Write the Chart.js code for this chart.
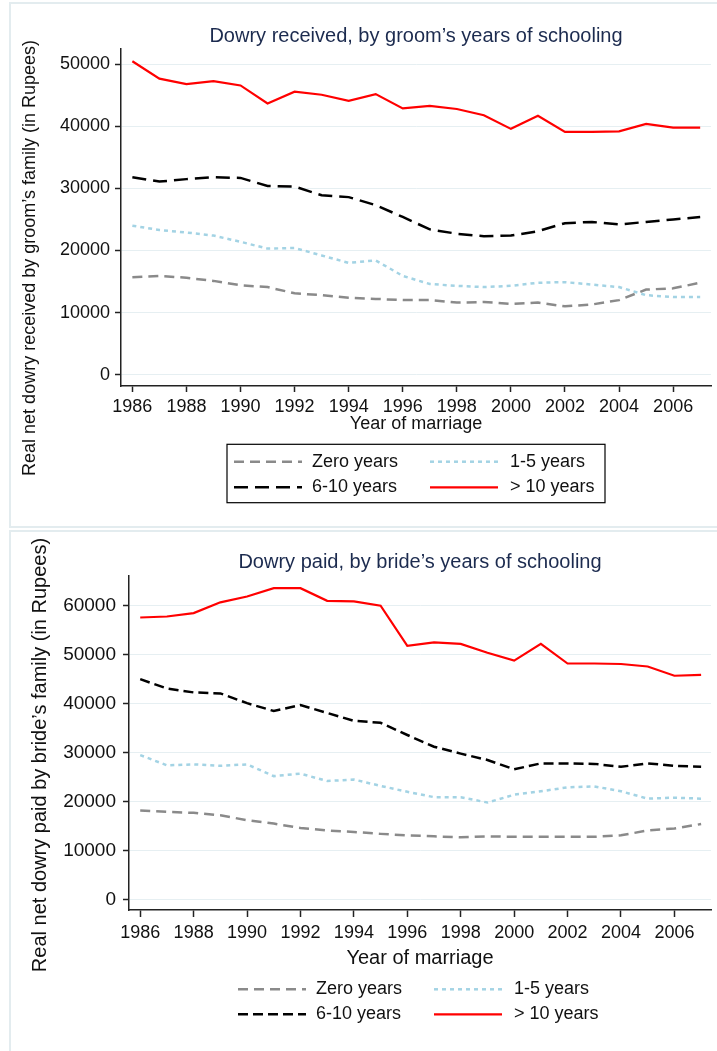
<!DOCTYPE html>
<html>
<head>
<meta charset="utf-8">
<script src="https://cdn.jsdelivr.net/npm/chart.js@4.4.1/dist/chart.umd.min.js"></script>
<style>
  body { margin: 0; background: #fff; width: 717px; height: 1051px; position: relative; overflow: hidden; }
  .panel { position: absolute; left: 9px; width: 720px; border: 2px solid #e3ecef; box-sizing: border-box; }
  #p1 { top: 2px; height: 526px; }
  #p2 { top: 530px; height: 530px; }
  canvas { position: absolute; left: 0; }
  #c1 { top: 0; }
  #c2 { top: 529px; }
</style>
</head>
<body>
<div class="panel" id="p1"></div>
<div class="panel" id="p2"></div>
<canvas id="c1" width="717" height="528"></canvas>
<canvas id="c2" width="717" height="522"></canvas>
<script>
// data
const years = [1986, 1987, 1988, 1989, 1990, 1991, 1992, 1993, 1994, 1995, 1996,
               1997, 1998, 1999, 2000, 2001, 2002, 2003, 2004, 2005, 2006, 2007];
const xTicks = [1986, 1988, 1990, 1992, 1994, 1996, 1998, 2000, 2002, 2004, 2006];
const seriesLabels = ['Zero years', '1-5 years', '6-10 years', '> 10 years'];

// Dowry received, by groom's schooling
const recvTicks = [0, 10000, 20000, 30000, 40000, 50000];
const recvZero   = [15700, 15900, 15600, 15100, 14400, 14100, 13100, 12800, 12400, 12200, 12000,
                    12000, 11600, 11700, 11400, 11600, 11000, 11300, 12000, 13700, 13900, 14800];
const recv1to5   = [24000, 23300, 22900, 22400, 21400, 20300, 20400, 19200, 18000, 18400, 15900,
                    14600, 14300, 14100, 14300, 14800, 14900, 14500, 14100, 12800, 12500, 12500];
const recv6to10  = [31800, 31100, 31500, 31800, 31700, 30400, 30300, 28900, 28600, 27300, 25400,
                    23400, 22700, 22300, 22400, 23100, 24400, 24600, 24200, 24600, 25000, 25400];
const recvOver10 = [50500, 47700, 46800, 47300, 46600, 43700, 45600, 45100, 44100, 45200, 42900,
                    43300, 42800, 41800, 39600, 41700, 39100, 39100, 39200, 40400, 39800, 39800];

// Dowry paid, by bride's schooling
const paidTicks = [0, 10000, 20000, 30000, 40000, 50000, 60000];
const paidZero   = [18200, 17900, 17700, 17200, 16200, 15500, 14600, 14100, 13800, 13400, 13100,
                    12900, 12700, 12900, 12800, 12800, 12800, 12800, 13100, 14100, 14500, 15400];
const paid1to5   = [29500, 27400, 27600, 27300, 27600, 25200, 25700, 24200, 24500, 23200, 22000,
                    20900, 20900, 19800, 21400, 22100, 22900, 23100, 22100, 20600, 20800, 20600];
const paid6to10  = [45000, 43100, 42300, 42100, 40100, 38500, 39700, 38100, 36500, 36100, 33600,
                    31200, 29800, 28500, 26600, 27800, 27800, 27700, 27100, 27800, 27300, 27100];
const paidOver10 = [57600, 57800, 58500, 60700, 61900, 63600, 63600, 61000, 60900, 60000, 51800,
                    52500, 52200, 50400, 48800, 52200, 48200, 48200, 48100, 47600, 45700, 45900];

Chart.defaults.font.family = '"Liberation Sans", Arial, sans-serif';
Chart.defaults.color = '#111';

// titles: main title over the plot region, y title centred on the panel (Stata style)
const plotTitle = {
  id: 'plotTitle',
  afterDraw(chart, args, opts) {
    const { ctx, chartArea } = chart;
    ctx.save();
    ctx.font = '20px "Liberation Sans", Arial, sans-serif';
    ctx.fillStyle = '#1c2b4f';
    ctx.textAlign = 'center';
    ctx.textBaseline = 'middle';
    ctx.fillText(opts.text, (chartArea.left + chartArea.right) / 2, opts.y);
    ctx.font = opts.ySize + 'px "Liberation Sans", Arial, sans-serif';
    ctx.fillStyle = '#111';
    ctx.translate(opts.yx, opts.yy);
    ctx.rotate(-Math.PI / 2);
    ctx.fillText(opts.yText, 0, 0);
    ctx.restore();
  }
};

// two-column legend under the x title
const plotLegend = {
  id: 'plotLegend',
  afterDraw(chart, args, opts) {
    const { ctx, chartArea } = chart;
    const cx = (chartArea.left + chartArea.right) / 2;
    ctx.save();
    ctx.font = '18px "Liberation Sans", Arial, sans-serif';
    ctx.textBaseline = 'middle';
    chart.data.datasets.forEach((ds, i) => {
      const col = i % 2;
      const y = opts.rows[Math.floor(i / 2)];
      const x0 = cx + (col ? 14 : -182);
      ctx.strokeStyle = ds.borderColor;
      ctx.lineWidth = ds.borderWidth;
      ctx.setLineDash(ds.borderDash);
      ctx.beginPath();
      ctx.moveTo(x0, y);
      ctx.lineTo(x0 + 68, y);
      ctx.stroke();
      ctx.setLineDash([]);
      ctx.fillStyle = '#111';
      ctx.fillText(ds.label, cx + (col ? 94 : -104), y);
    });
    if (opts.box) {
      ctx.strokeStyle = '#000';
      ctx.lineWidth = 1.2;
      ctx.strokeRect(cx - 189, opts.box[0], 378, opts.box[1] - opts.box[0]);
    }
    ctx.restore();
  }
};

function makeChart(id, series, styles, o) {
  new Chart(document.getElementById(id), {
    type: 'line',
    data: {
      datasets: series.map((vals, i) => ({
        label: seriesLabels[i],
        data: years.map((yr, j) => ({ x: yr, y: vals[j] })),
        borderColor: styles[i].color,
        borderWidth: styles[i].width,
        borderDash: styles[i].dash,
        pointRadius: 0,
        tension: 0,
        fill: false
      }))
    },
    options: {
      responsive: false,
      animation: false,
      layout: { padding: { top: o.top, right: 6, bottom: o.bottom, left: 0 } },
      plugins: {
        legend: { display: false },
        tooltip: { enabled: false },
        plotTitle: { text: o.title, y: o.titleY, yText: o.yTitle, yx: o.yTitleX, yy: o.yTitleY, ySize: o.yTitleSize },
        plotLegend: { rows: o.legendRows, box: o.legendBox }
      },
      scales: {
        x: {
          type: 'linear',
          min: 1985.58,
          max: o.xMax,
          afterBuildTicks: s => { s.ticks = xTicks.map(v => ({ value: v })); },
          afterFit: s => { s.height = o.xHeight; },
          ticks: { font: { size: 18 }, padding: o.xPad, maxRotation: 0, callback: v => String(v), color: '#111' },
          grid: { drawOnChartArea: false, tickLength: o.xTick, tickColor: '#222', tickWidth: 1.5 },
          border: { display: true, color: '#222', width: 1.5 },
          title: { display: true, text: 'Year of marriage', font: { size: o.xTitleSize }, padding: 0, color: '#111' }
        },
        y: {
          min: o.yMin,
          max: o.yMax,
          afterBuildTicks: s => { s.ticks = o.yTicks.map(v => ({ value: v })); },
          afterFit: s => { s.width = o.yWidth; },
          ticks: { font: { size: o.yTickSize }, padding: o.yPad, callback: v => String(v), color: '#111' },
          grid: { color: '#e6eff2', lineWidth: 1, tickLength: 6, tickColor: '#222', tickWidth: 1.5 },
          border: { display: true, color: '#222', width: 1.5 }
        }
      }
    },
    plugins: [plotTitle, plotLegend]
  });
}

makeChart('c1', [recvZero, recv1to5, recv6to10, recvOver10], [
  { color: '#8a8a8a', width: 2.5, dash: [10, 6] },
  { color: '#a3d3e4', width: 2.5, dash: [4, 4] },
  { color: '#000000', width: 2.5, dash: [14, 7] },
  { color: '#ff0000', width: 2.2, dash: [] }
], {
  title: 'Dowry received, by groom\u2019s years of schooling', titleY: 36,
  top: 49, bottom: 93, xHeight: 49, xMax: 2007.4, xPad: 4, xTick: 6, xTitleSize: 18,
  yMin: -1840, yMax: 52470, yTicks: recvTicks, yWidth: 121, yPad: 5, yTickSize: 18,
  yTitle: 'Real net dowry received by groom\u2019s family (in Rupees)', yTitleSize: 18, yTitleX: 30, yTitleY: 258,
  legendRows: [461.7, 487.3], legendBox: [444.3, 502.7]
});

makeChart('c2', [paidZero, paid1to5, paid6to10, paidOver10], [
  { color: '#8a8a8a', width: 2.5, dash: [10, 6] },
  { color: '#a3d3e4', width: 2.5, dash: [4, 4] },
  { color: '#000000', width: 2.5, dash: [10, 5] },
  { color: '#ff0000', width: 2.2, dash: [] }
], {
  title: 'Dowry paid, by bride\u2019s years of schooling', titleY: 33.5,
  top: 46.7, bottom: 81, xHeight: 60, xMax: 2007.37, xPad: 5, xTick: 7, xTitleSize: 20,
  yMin: -2150, yMax: 66140, yTicks: paidTicks, yWidth: 129, yPad: 7, yTickSize: 19,
  yTitle: 'Real net dowry paid by bride\u2019s family (in Rupees)', yTitleSize: 20, yTitleX: 40, yTitleY: 226,
  legendRows: [460.3, 485.3], legendBox: null
});
</script>
</body>
</html>
